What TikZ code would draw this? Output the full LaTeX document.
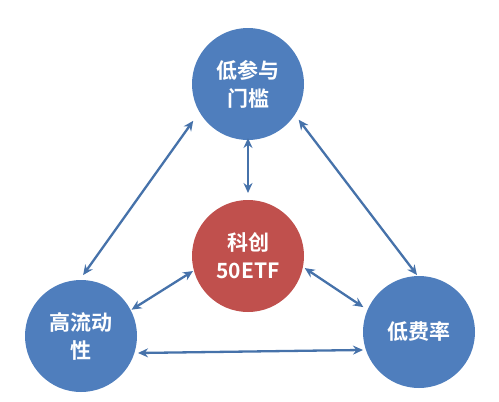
\documentclass[tikz,border=0pt]{standalone}
\usepackage{fontspec}
\newfontfamily\cjk{Noto Sans CJK SC}[BoldFont=* Bold]
\usetikzlibrary{calc,arrows.meta}
\definecolor{cblue}{HTML}{4F7EBD}
\definecolor{cred}{HTML}{C0504D}
\definecolor{carr}{HTML}{4672AA}
\tikzset{
  bubble/.style={circle, minimum size=112pt, inner sep=0pt, text=white,
    font=\cjk\bfseries\fontsize{21}{28}\selectfont, align=center},
  bluebubble/.style={bubble, fill=cblue},
  redbubble/.style={bubble, fill=cred},
  link/.style={draw=carr, line width=2.3pt,
    {Stealth[length=10pt,width=9pt]}-{Stealth[length=10pt,width=9pt]}}
}
\begin{document}
\begin{tikzpicture}[x=1pt,y=-1pt]
\useasboundingbox[fill=white] (0,0) rectangle (499,402);
\node[bluebubble] (top) at (248,84) {低参与\\门槛};
\node[redbubble] (mid) at (248,256) {科创\\50ETF};
\node[bluebubble] (left) at (81,336) {高流动\\性};
\node[bluebubble] (right) at (419,332) {低费率};
\draw[link] ($(top)+(270:54pt)$) -- ($(mid)+(90:63pt)$);
\draw[link] ($(top)+(213.9:66pt)$) -- ($(left)+(88:61pt)$);
\draw[link] ($(left)+(27.5:57pt)$) -- ($(mid)+(195.3:57pt)$);
\draw[link] ($(top)+(324.8:62pt)$) -- ($(right)+(92:57pt)$);
\draw[link] ($(mid)+(348:58pt)$) -- ($(right)+(155.9:61pt)$);
\draw[link] ($(left)+(343.4:59.5pt)$) -- ($(right)+(197.8:58.8pt)$);
\end{tikzpicture}
\end{document}
